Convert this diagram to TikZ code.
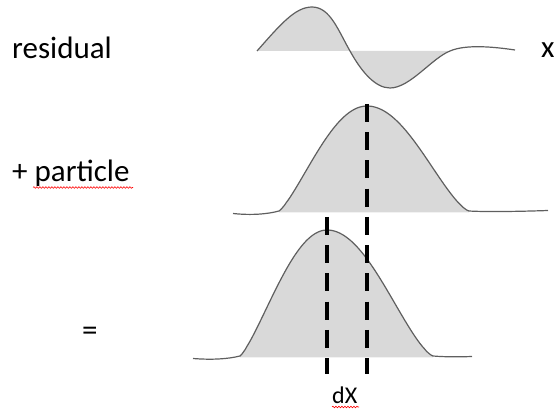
\documentclass[tikz,border=0pt]{standalone}
\usepackage{fontspec}
\setmainfont{Carlito}
\usetikzlibrary{decorations.pathmorphing}
\definecolor{fillgray}{HTML}{D9D9D9}
\definecolor{linegray}{HTML}{5F5F5F}
\begin{document}
\begin{tikzpicture}[x=1pt,y=-1pt,
  curve/.style={draw=linegray,line width=1.2pt},
  area/.style={fill=fillgray},
  dashline/.style={line width=4pt,dash pattern=on 18pt off 10.25pt},
  lbl/.style={font=\fontsize{31}{36}\selectfont,inner sep=0pt,anchor=base west},
  small/.style={font=\fontsize{24}{28}\selectfont,inner sep=0pt,anchor=base west},
  spell/.style={draw=red,line width=0.6pt,decorate,decoration={snake,amplitude=0.8pt,segment length=3pt}}]
\useasboundingbox (0,0) rectangle (554,411);

% labels
\node[lbl] (res) at (12,59) {residual};
\node[lbl] (par) at (12,182) {+ particle};
\node[lbl] (eq) at (82,341) {=};
\node[lbl] (xl) at (541,58) {x};
\node[small] (dx) at (332,403) {dX};
\coordinate (s1) at (33,187.5);
\coordinate (s2) at (133,187.5);
\coordinate (s3) at (332,407);
\coordinate (s4) at (359,407);
\draw[spell] (s1) -- (s2);
\draw[spell] (s3) -- (s4);

% residual
\fill[area] (257,51) .. controls (280,25) and (295,7) .. (312,7)
  .. controls (330,7) and (338,30) .. (350,51)
  .. controls (361,71) and (375,88) .. (390,88)
  .. controls (410,88) and (432,58) .. (450,51) -- cycle;
\draw[curve] (257,51) .. controls (280,25) and (295,7) .. (312,7)
  .. controls (330,7) and (338,30) .. (350,51)
  .. controls (361,71) and (375,88) .. (390,88)
  .. controls (410,88) and (432,58) .. (450,51)
  .. controls (466,44) and (495,47) .. (515,50);

% particle
\fill[area] (279,212.5)
  -- plot[domain=-88:0,samples=50] ({367+\x},{211-105*max(cos(90*\x/88),0.001)^1.25})
  -- plot[domain=0:102,samples=50] ({367+\x},{211-105*max(cos(90*\x/102),0.001)^1.4})
  -- (469,212.5) -- cycle;
\draw[curve] (233,213.5) .. controls (252,215.5) and (268,214) .. (279,211)
  -- plot[domain=-88:0,samples=50] ({367+\x},{211-105*max(cos(90*\x/88),0.001)^1.25})
  -- plot[domain=0:102,samples=50] ({367+\x},{211-105*max(cos(90*\x/102),0.001)^1.4})
  .. controls (485,212) and (520,211.5) .. (548,210.5);

% result
\fill[area] (240,357.5)
  -- plot[domain=-87:0,samples=50] ({327+\x},{356-126*max(cos(90*\x/87),0.001)^1.25})
  -- plot[domain=0:106,samples=50] ({327+\x},{356-126*max(cos(90*\x/106),0.001)^1.4})
  -- (433,357.5) -- cycle;
\draw[curve] (193,358.5) .. controls (212,360) and (228,359) .. (240,356)
  -- plot[domain=-87:0,samples=50] ({327+\x},{356-126*max(cos(90*\x/87),0.001)^1.25})
  -- plot[domain=0:106,samples=50] ({327+\x},{356-126*max(cos(90*\x/106),0.001)^1.4})
  .. controls (445,357) and (458,357) .. (472,356.5);

% dashed lines
\coordinate (r1) at (367,104);
\coordinate (r2) at (367,374);
\coordinate (l1) at (327,217);
\coordinate (l2) at (327,374);
\draw[dashline] (r1) -- (r2);
\draw[dashline] (l1) -- (l2);
\end{tikzpicture}
\end{document}
